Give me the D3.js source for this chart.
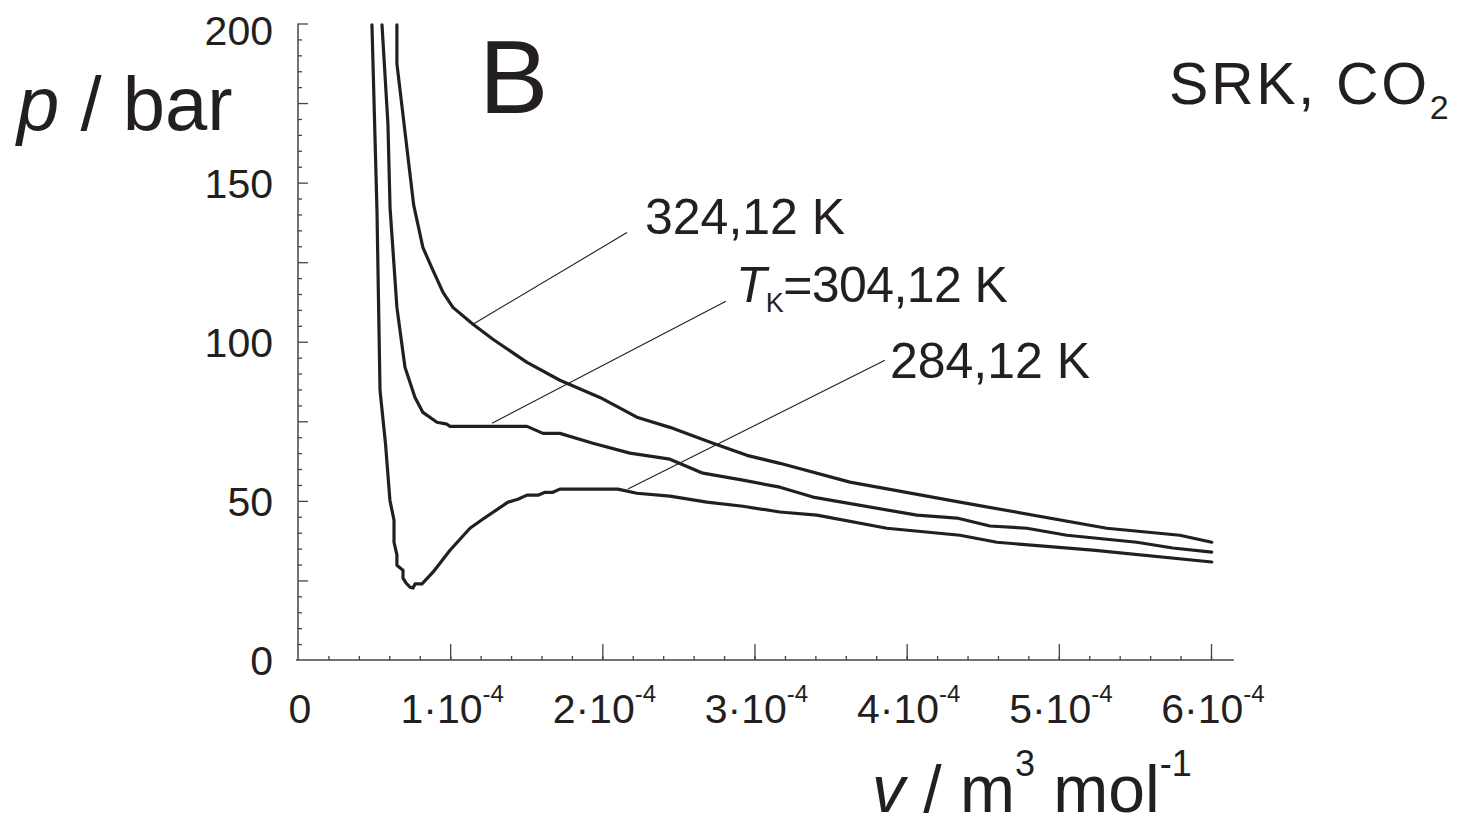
<!DOCTYPE html>
<html>
<head>
<meta charset="utf-8">
<script src="https://cdn.jsdelivr.net/npm/d3@7"></script>
<style>
  html, body { margin: 0; padding: 0; background: #fff; }
  svg { display: block; font-family: "Liberation Sans", Arial, Helvetica, sans-serif; }
</style>
</head>
<body>
<svg id="chart" width="1465" height="825"></svg>
<script>
// Molar volume (m^3/mol) and pressure (bar) along three SRK isotherms of CO2
const v324 = [0.650e-4, 0.650e-4, 0.760e-4, 0.821e-4, 0.887e-4, 0.953e-4, 1.018e-4, 1.150e-4, 1.281e-4,
  1.505e-4, 1.721e-4, 1.984e-4, 2.227e-4, 2.444e-4, 2.727e-4, 2.950e-4, 3.167e-4, 3.627e-4,
  4.350e-4, 5.315e-4, 5.795e-4, 6.005e-4];
const p324 = [199.6, 187.4, 143.0, 129.6, 122.4, 115.5, 110.8, 105.5, 100.8,
  93.5, 87.9, 82.5, 76.3, 73.1, 68.1, 64.3, 61.8, 55.9,
  49.6, 41.4, 39.2, 37.0];

const v304 = [0.552e-4, 0.591e-4, 0.605e-4, 0.650e-4, 0.703e-4, 0.769e-4, 0.821e-4, 0.913e-4, 0.979e-4,
  0.999e-4, 1.505e-4, 1.610e-4, 1.721e-4, 1.938e-4, 2.181e-4, 2.444e-4, 2.661e-4, 2.924e-4,
  3.167e-4, 3.384e-4, 4.067e-4, 4.330e-4, 4.547e-4, 4.790e-4, 5.053e-4, 5.512e-4, 5.749e-4, 6.005e-4];
const p304 = [199.6, 168.5, 142.0, 110.8, 92.0, 82.5, 77.8, 74.7, 74.1,
  73.4, 73.4, 71.2, 71.2, 68.1, 65.0, 63.1, 58.7, 56.5,
  54.3, 51.2, 45.5, 44.6, 42.1, 41.4, 39.2, 37.0, 35.2, 33.9];

const v284 = [0.486e-4, 0.519e-4, 0.539e-4, 0.575e-4, 0.604e-4, 0.631e-4, 0.631e-4, 0.650e-4, 0.650e-4,
  0.690e-4, 0.690e-4, 0.710e-4, 0.736e-4, 0.756e-4, 0.769e-4, 0.815e-4, 0.887e-4, 0.999e-4,
  1.130e-4, 1.216e-4, 1.380e-4, 1.445e-4, 1.505e-4, 1.577e-4, 1.623e-4, 1.675e-4, 1.721e-4,
  2.102e-4, 2.227e-4, 2.444e-4, 2.687e-4, 2.924e-4, 3.167e-4, 3.410e-4, 3.870e-4, 4.350e-4,
  4.593e-4, 5.223e-4, 6.005e-4];
const p284 = [199.6, 141.2, 84.7, 68.0, 50.2, 43.9, 37.0, 33.0, 29.8,
  28.2, 25.7, 24.2, 22.9, 22.6, 23.9, 23.9, 27.6, 34.5,
  41.4, 44.3, 49.6, 50.5, 51.8, 51.8, 52.7, 52.7, 53.7,
  53.7, 52.4, 51.5, 49.6, 48.3, 46.5, 45.5, 41.4, 39.2,
  37.0, 34.5, 30.8];

// Tick values and labels
const vTicks = [0, 1e-4, 2e-4, 3e-4, 4e-4, 5e-4, 6e-4];
const vTickMantissa = ["0", "1·10", "2·10", "3·10", "4·10", "5·10", "6·10"];
const vTickExponent = ["", "-4", "-4", "-4", "-4", "-4", "-4"];
const pTicks = [0, 50, 100, 150, 200];
const pTickLabels = ["0", "50", "100", "150", "200"];

// Isotherm labels with leader lines (start on the curve, end near the text), in data units
const isoLabels = ["324,12 K", "=304,12 K", "284,12 K"];
const leaderFromV = [1.150e-4, 1.275e-4, 2.168e-4];
const leaderFromP = [105.5, 74.4, 53.7];
const leaderToV = [2.162e-4, 2.812e-4, 3.857e-4];
const leaderToP = [134.3, 112.7, 94.2];

const svg = d3.select("#chart");
const ink = "#231f20";
const axisInk = "#444";

const x = d3.scaleLinear().domain([0, 6e-4]).range([298, 1211]);
const y = d3.scaleLinear().domain([0, 200]).range([660, 23.5]);

function styleTicks(g) {
  g.select(".domain").remove();
  g.selectAll(".tick line").attr("stroke", axisInk).attr("stroke-width", 1.3);
}

// X axis: minor ticks every 0.2·10^-4, major every 10^-4, pointing up
svg.append("g").attr("transform", `translate(0,${y(0)})`)
  .call(d3.axisTop(x).tickValues(d3.range(1, 31).map(i => i * 0.2e-4)).tickSize(4).tickFormat(""))
  .call(styleTicks);
svg.append("g").attr("transform", `translate(0,${y(0)})`)
  .call(d3.axisTop(x).tickValues(vTicks.slice(1)).tickSize(16).tickFormat(""))
  .call(styleTicks);

// Y axis: minor ticks every 5 bar, longer ones every 25 bar, pointing right
svg.append("g").attr("transform", `translate(${x(0)},0)`)
  .call(d3.axisRight(y).tickValues(d3.range(5, 200, 5).filter(p => p % 25 !== 0)).tickSize(4).tickFormat(""))
  .call(styleTicks);
svg.append("g").attr("transform", `translate(${x(0)},0)`)
  .call(d3.axisRight(y).tickValues(d3.range(25, 201, 25)).tickSize(10).tickFormat(""))
  .call(styleTicks);

// Axis lines
svg.append("line").attr("x1", x(0)).attr("x2", x(0)).attr("y1", y(200)).attr("y2", y(0))
  .attr("stroke", axisInk).attr("stroke-width", 1.5);
svg.append("line").attr("x1", x(0) - 2).attr("x2", x(6.15e-4)).attr("y1", y(0)).attr("y2", y(0))
  .attr("stroke", axisInk).attr("stroke-width", 1.5);

// Y tick labels
svg.append("g").selectAll("text").data(pTicks).join("text")
  .attr("x", 273)
  .attr("y", d => Math.max(y(d) + 15, 45))
  .attr("text-anchor", "end")
  .attr("font-size", 41)
  .attr("fill", ink)
  .text((d, i) => pTickLabels[i]);

// X tick labels with powers of ten
const xl = svg.append("g").selectAll("text").data(vTicks).join("text")
  .attr("x", d => x(d) + 2)
  .attr("y", 723)
  .attr("text-anchor", "middle")
  .attr("font-size", 41)
  .attr("fill", ink);
xl.append("tspan").text((d, i) => vTickMantissa[i]);
xl.append("tspan").attr("font-size", 24).attr("dy", -21).text((d, i) => vTickExponent[i]);

// Isotherms
const line = d3.line().x(d => x(d[0])).y(d => y(d[1]));
const curves = [[v324, p324], [v304, p304], [v284, p284]];
svg.append("g").selectAll("path").data(curves).join("path")
  .attr("d", c => line(c[0].map((v, i) => [v, c[1][i]])))
  .attr("fill", "none")
  .attr("stroke", ink)
  .attr("stroke-width", 3.2)
  .attr("stroke-linejoin", "round")
  .attr("stroke-linecap", "round");

// Leader lines
svg.append("g").selectAll("line").data(isoLabels).join("line")
  .attr("x1", (d, i) => x(leaderFromV[i])).attr("y1", (d, i) => y(leaderFromP[i]))
  .attr("x2", (d, i) => x(leaderToV[i])).attr("y2", (d, i) => y(leaderToP[i]))
  .attr("stroke", ink).attr("stroke-width", 1.1);

// Isotherm labels
const labelDx = [18, 10, 5];
const labelDy = [1, 1, 18];
svg.append("g").selectAll("text").data(isoLabels).join("text")
  .attr("x", (d, i) => x(leaderToV[i]) + labelDx[i])
  .attr("y", (d, i) => y(leaderToP[i]) + labelDy[i])
  .attr("font-size", 50)
  .attr("fill", ink)
  .attr("letter-spacing", (d, i) => i === 1 ? -0.6 : 0)
  .each(function (d, i) {
    const t = d3.select(this);
    if (i === 1) {
      t.append("tspan").attr("font-style", "italic").text("T");
      t.append("tspan").attr("font-size", 27).attr("dy", 10).text("K");
      t.append("tspan").attr("dy", -10).text(d);
    } else {
      t.text(d);
    }
  });

// Panel letter and model caption
svg.append("text").attr("x", 479).attr("y", 113).attr("font-size", 104).attr("fill", ink).text("B");
const cap = svg.append("text").attr("x", 1169).attr("y", 104).attr("font-size", 59)
  .attr("letter-spacing", 2.6).attr("fill", ink);
cap.append("tspan").text("SRK, CO");
cap.append("tspan").attr("font-size", 34).attr("dy", 15).attr("letter-spacing", 0).text("2");

// Axis titles
const yt = svg.append("text").attr("x", 17).attr("y", 130).attr("font-size", 76).attr("fill", ink);
yt.append("tspan").attr("font-style", "italic").text("p");
yt.append("tspan").text(" / bar");

const xt = svg.append("text").attr("x", 872).attr("y", 812).attr("font-size", 66).attr("fill", ink);
xt.append("tspan").attr("font-style", "italic").text("v");
xt.append("tspan").text(" / m");
xt.append("tspan").attr("font-size", 36).attr("dy", -36).text("3");
xt.append("tspan").attr("dy", 36).text(" mol");
xt.append("tspan").attr("font-size", 36).attr("dy", -36).text("-1");
</script>
</body>
</html>
